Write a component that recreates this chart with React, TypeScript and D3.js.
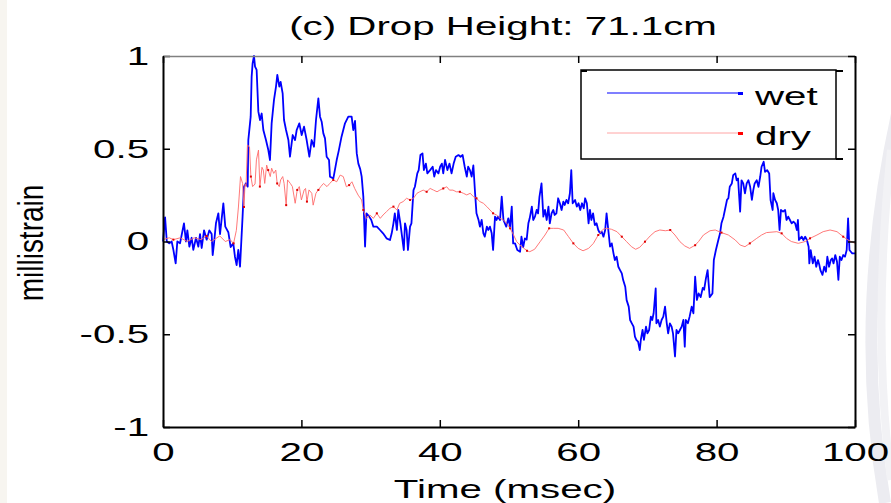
import React, { Component } from 'react'
import * as d3 from 'd3'

// values (time in msec, strain in millistrain)
const wetTime = [
  0, 0.3, 0.55, 0.9, 1.25, 1.5, 1.83, 2.07, 2.46, 2.84, 3.03, 3.32, 3.52, 3.81, 4.14, 4.38, 4.77, 5.11, 5.35, 5.59,
  5.93, 6.31, 6.7, 7.03, 7.18, 7.37, 7.66, 8.0, 8.24, 8.72, 9.0, 9.44, 9.78, 10.16, 10.4, 10.64, 10.88, 11.13, 11.5, 11.7,
  11.99, 12.24, 12.33, 12.67, 12.81, 12.95, 13.15, 13.3, 13.53, 13.78, 14.02, 14.26, 14.5, 14.88, 15.22, 15.46, 15.7, 16.04, 16.33, 16.52,
  16.81, 17.0, 17.29, 17.49, 17.78, 18.12, 18.35, 18.74, 19.08, 19.32, 19.7, 20.04, 20.38, 20.76, 21.15, 21.48, 21.82, 22.11, 22.45, 22.69,
  22.93, 23.17, 23.41, 23.65, 23.99, 24.13, 24.62, 25.1, 25.4, 25.8, 26.3, 26.78, 27.26, 27.5, 27.75, 28.0, 28.23, 28.5, 28.71, 28.95,
  29.2, 29.4, 29.8, 30.1, 30.4, 30.9, 31.36, 31.8, 32.3, 32.8, 33.05, 33.3, 33.5, 33.8, 34.0, 34.3, 34.8, 34.97, 35.2, 35.4,
  35.7, 35.9, 36.2, 36.4, 36.75, 36.95, 37.2, 37.5, 37.7, 37.99, 38.2, 38.6, 38.97, 39.2, 39.45, 39.8, 40.05, 40.3, 40.5, 40.76,
  41.1, 41.4, 41.7, 42.0, 42.3, 42.7, 43.0, 43.3, 43.6, 43.9, 44.1, 44.35, 44.6, 44.85, 45.1, 45.3, 45.6, 45.8, 46.05, 46.3,
  46.5, 46.8, 47.0, 47.25, 47.5, 47.7, 47.98, 48.2, 48.4, 48.7, 48.95, 49.2, 49.6, 49.9, 50.15, 50.4, 50.6, 50.87, 51.2, 51.6,
  51.8, 52.05, 52.3, 52.55, 52.8, 52.99, 53.3, 53.5, 53.75, 54.0, 54.2, 54.4, 54.7, 54.96, 55.2, 55.45, 55.7, 55.9, 56.15, 56.4,
  56.6, 56.85, 57.1, 57.35, 57.6, 57.85, 58.05, 58.3, 58.55, 58.8, 59.0, 59.2, 59.55, 59.8, 60.05, 60.3, 60.55, 60.8, 61.0, 61.25,
  61.5, 61.7, 61.9, 62.15, 62.4, 62.65, 62.9, 63.15, 63.4, 63.65, 63.9, 64.1, 64.35, 64.6, 64.85, 65.1, 65.3, 65.55, 65.8, 66.05,
  66.3, 66.5, 66.8, 67.0, 67.3, 67.5, 67.75, 68.0, 68.2, 68.4, 68.65, 68.9, 69.05, 69.3, 69.5, 69.8, 70.0, 70.25, 70.5, 70.7,
  70.9, 71.2, 71.3, 71.55, 71.8, 72.05, 72.3, 72.55, 72.8, 73.0, 73.25, 73.5, 73.7, 73.99, 74.2, 74.45, 74.7, 74.95, 75.2, 75.4,
  75.55, 75.85, 76.1, 76.4, 76.65, 76.9, 77.15, 77.4, 77.7, 78.0, 78.2, 78.45, 78.7, 79.0, 79.4, 79.6, 79.9, 80.25, 80.5, 80.7,
  81.0, 81.2, 81.5, 81.7, 81.9, 82.2, 82.4, 82.7, 82.9, 83.1, 83.4, 83.6, 83.85, 84.1, 84.35, 84.6, 84.85, 85.1, 85.3, 85.5,
  85.8, 86.05, 86.3, 86.5, 86.8, 87.0, 87.3, 87.6, 87.8, 88.1, 88.2, 88.45, 88.7, 88.9, 89.1, 89.3, 89.6, 89.9, 90.1, 90.35,
  90.6, 90.85, 91.1, 91.35, 91.6, 91.75, 91.9, 92.3, 92.55, 92.8, 93.05, 93.3, 93.4, 93.6, 93.9, 94.15, 94.4, 94.65, 94.85, 95.0,
  95.3, 95.55, 95.8, 96.0, 96.25, 96.5, 96.7, 96.9, 97.15, 97.4, 97.6, 97.8, 98.05, 98.3, 98.55, 98.8, 99.0, 99.2, 99.4, 99.6,
  100
]
const wetStrain = [
  0, 0.13, 0, -0.01, 0, -0.045, -0.118, 0, -0.01, 0.062, 0.098, 0, 0.06, -0.028, 0.02, -0.045, 0.02, -0.028, 0.04, -0.035,
  0.06, 0.01, 0.06, 0.04, -0.073, -0.01, 0.1, 0.152, 0.04, 0.206, 0.08, 0.05, -0.03, -0.01, -0.082, -0.127, -0.045, -0.136, 0.134, 0.296,
  0.314, 0.296, 0.547, 0.673, 0.889, 0.96, 1.0, 0.943, 0.925, 0.7, 0.655, 0.69, 0.601, 0.547, 0.493, 0.439, 0.637, 0.763, 0.835, 0.898,
  0.835, 0.86, 0.799, 0.655, 0.601, 0.547, 0.457, 0.574, 0.547, 0.601, 0.637, 0.574, 0.619, 0.547, 0.457, 0.547, 0.511, 0.655, 0.772, 0.673,
  0.646, 0.583, 0.556, 0.457, 0.439, 0.349, 0.34, 0.439, 0.49, 0.565, 0.637, 0.673, 0.673, 0.601, 0.65, 0.475, 0.42, 0.39, 0.35, 0.242,
  -0.027, 0.152, 0.134, 0.116, 0.08, 0.08, 0.062, 0.044, 0.017, 0.008, 0.044, 0.098, 0.152, 0.062, 0.17, 0.098, -0.046, 0.098, 0.062, -0.046,
  0.08, 0.098, 0.277, 0.295, 0.367, 0.385, 0.466, 0.475, 0.385, 0.42, 0.367, 0.385, 0.403, 0.35, 0.385, 0.367, 0.403, 0.42, 0.367, 0.44,
  0.385, 0.42, 0.367, 0.42, 0.457, 0.466, 0.457, 0.466, 0.403, 0.35, 0.403, 0.385, 0.35, 0.41, 0.26, 0.152, 0.116, 0.08, 0.116, 0.044,
  0.026, 0.08, 0.062, 0.08, 0.044, -0.046, 0.134, 0.116, 0.134, 0.116, 0.242, 0.116, 0.08, 0.125, 0.08, 0.188, -0.01, -0.01, -0.046, -0.055,
  0.026, -0.03, 0.017, 0.01, 0.098, 0.125, 0.188, 0.116, 0.134, 0.17, 0.152, 0.241, 0.313, 0.134, 0.17, 0.116, 0.188, 0.098, 0.152, 0.17,
  0.143, 0.152, 0.233, 0.206, 0.17, 0.215, 0.197, 0.224, 0.206, 0.26, 0.385, 0.206, 0.224, 0.188, 0.206, 0.17, 0.206, 0.179, 0.233, 0.206,
  0.098, 0.17, 0.116, 0.152, 0.089, 0.098, 0.062, 0.044, 0.053, 0.026, 0.062, 0.152, 0.062, -0.028, -0.01, -0.064, -0.1, -0.082, -0.136, -0.154,
  -0.172, -0.208, -0.244, -0.316, -0.351, -0.423, -0.441, -0.459, -0.513, -0.53, -0.54, -0.585, -0.53, -0.477, -0.53, -0.459, -0.495, -0.477, -0.405, -0.423,
  -0.387, -0.253, -0.441, -0.423, -0.459, -0.423, -0.405, -0.351, -0.441, -0.495, -0.441, -0.459, -0.495, -0.62, -0.477, -0.495, -0.477, -0.459, -0.423, -0.567,
  -0.423, -0.441, -0.405, -0.351, -0.387, -0.19, -0.315, -0.28, -0.3, -0.25, -0.26, -0.2, -0.154, -0.3, -0.28, -0.1, -0.046, 0.008, 0.044, 0.098,
  0.134, 0.17, 0.224, 0.233, 0.295, 0.313, 0.358, 0.367, 0.33, 0.34, 0.161, 0.33, 0.313, 0.26, 0.313, 0.33, 0.295, 0.224, 0.277, 0.313,
  0.33, 0.295, 0.349, 0.403, 0.43, 0.376, 0.385, 0.367, 0.224, 0.17, 0.26, 0.224, 0.206, 0.17, 0.062, 0.17, 0.161, 0.17, 0.116, 0.134,
  0.116, 0.098, 0.107, 0.098, 0.062, 0.116, 0.008, 0.026, 0.008, 0.026, 0.008, -0.028, -0.118, -0.046, -0.118, -0.082, -0.136, -0.1, -0.127, -0.154,
  -0.18, -0.136, -0.163, -0.082, -0.136, -0.1, -0.091, -0.118, -0.073, -0.109, -0.207, -0.082, -0.1, -0.073, -0.082, -0.046, 0.125, -0.046, -0.055, -0.064,
  -0.064
]

const dryTime = [
  0, 0.9, 1.5, 2.5, 3.5, 4.5, 5.5, 6.3, 7.0, 8.2, 9.0, 9.7, 10.2, 10.6, 10.9, 11.2, 11.5, 11.7, 11.85, 12.0,
  12.2, 12.5, 12.7, 12.95, 13.3, 13.5, 13.8, 14.0, 14.3, 14.5, 14.7, 14.98, 15.2, 15.5, 15.7, 16.0, 16.3, 16.5, 16.8, 17.0,
  17.3, 17.5, 17.8, 18.0, 18.4, 18.7, 19.1, 19.4, 19.7, 20.0, 20.4, 20.6, 20.8, 21.1, 21.5, 21.7, 22.1, 22.45, 22.8, 23.2,
  23.7, 24.1, 24.6, 25.1, 25.6, 26.05, 26.5, 26.9, 27.3, 27.7, 28.2, 28.7, 28.95, 29.2, 29.4, 29.9, 30.4, 30.9, 31.4, 31.8,
  32.3, 32.8, 33.3, 33.8, 34.2, 34.7, 35.2, 35.7, 36.2, 36.7, 37.1, 37.6, 38.1, 38.6, 39.1, 39.6, 40.0, 40.5, 41.0, 41.4,
  41.9, 42.4, 42.9, 43.4, 43.9, 44.4, 44.85, 45.3, 45.8, 46.3, 46.8, 47.25, 47.7, 48.2, 48.7, 49.2, 49.65, 50.15, 50.6, 51.1,
  51.6, 52.1, 52.6, 53.0, 53.7, 54.5, 55.2, 55.8, 56.4, 57.1, 57.9, 58.6, 59.3, 60.0, 60.7, 61.5, 62.2, 62.9, 63.6, 64.1,
  64.8, 65.6, 66.3, 67.0, 67.7, 68.3, 68.9, 69.65, 70.4, 71.1, 71.8, 72.6, 73.3, 73.98, 74.7, 75.4, 76.1, 76.9, 77.4, 78.1,
  79.05, 79.8, 80.7, 81.7, 82.7, 83.4, 84.1, 84.8, 85.8, 86.5, 87.2, 88.7, 89.4, 90.1, 90.8, 91.8, 92.8, 93.5, 94.5, 95.4,
  96.4, 97.4, 98.3, 99.0, 100
]
const dryStrain = [
  0.01, 0.02, 0.01, 0.02, 0, 0.02, 0.01, 0.03, 0, 0.03, 0, 0.01, -0.01, 0.06, 0.186, 0.35, 0.313, 0.186, 0.31, 0.296,
  0.52, 0.51, 0.35, 0.296, 0.31, 0.44, 0.493, 0.296, 0.4, 0.385, 0.313, 0.412, 0.385, 0.35, 0.395, 0.367, 0.385, 0.313, 0.296, 0.332,
  0.35, 0.313, 0.196, 0.332, 0.313, 0.296, 0.206, 0.278, 0.296, 0.224, 0.278, 0.286, 0.215, 0.278, 0.26, 0.196, 0.26, 0.278, 0.296, 0.313,
  0.296, 0.313, 0.332, 0.322, 0.358, 0.35, 0.295, 0.304, 0.322, 0.286, 0.25, 0.224, 0.17, 0.143, 0.125, 0.143, 0.125, 0.152, 0.125, 0.143,
  0.161, 0.179, 0.188, 0.17, 0.206, 0.215, 0.233, 0.224, 0.233, 0.26, 0.268, 0.277, 0.268, 0.286, 0.277, 0.268, 0.277, 0.286, 0.295, 0.277,
  0.277, 0.268, 0.268, 0.26, 0.251, 0.26, 0.242, 0.233, 0.215, 0.206, 0.188, 0.17, 0.152, 0.143, 0.125, 0.116, 0.098, 0.071, 0.04, 0,
  -0.02, -0.035, -0.05, -0.055, -0.042, -0.001, 0.035, 0.071, 0.071, 0.071, 0.062, 0.026, -0.01, -0.037, -0.05, -0.037, -0.01, 0.035, 0.066, 0.071,
  0.066, 0.053, 0.026, -0.001, -0.028, -0.042, -0.031, -0.001, 0.03, 0.053, 0.062, 0.058, 0.062, 0.035, -0.001, -0.024, -0.037, -0.02, 0, 0.035,
  0.058, 0.062, 0.048, 0.035, 0.008, -0.019, -0.028, -0.01, 0.017, 0.035, 0.048, 0.053, 0.044, 0.017, 0, -0.01, 0, 0.017, 0.035, 0.053,
  0.062, 0.053, 0.026, 0.008, -0.01
]

const xTicks = [0, 20, 40, 60, 80, 100]
const yTicks = [-1, -0.5, 0, 0.5, 1]
const seriesNames = ['wet', 'dry']
const seriesColors = ['#0000ff', '#ff6a6a']
const titleText = '(c) Drop Height: 71.1cm'
const xTitle = 'Time (msec)'
const yTitle = 'millistrain'

const FONT = '"Liberation Sans", Arial, Helvetica, sans-serif'
const STRETCH = 1.55

class Chart extends Component {
  node: SVGSVGElement | null = null

  componentDidMount() {
    this.createChart()
  }

  componentDidUpdate() {
    this.createChart()
  }

  createChart() {
    const svg = d3.select(this.node)
    svg.selectAll('*').remove()

    const left = 163, right = 855, top = 56, bottom = 427
    const x = d3.scaleLinear().domain([0, 100]).range([left, right])
    const y = d3.scaleLinear().domain([-1, 1]).range([bottom, top])

    // faint slide background leftovers
    svg.append('rect').attr('x', 0).attr('y', 0).attr('width', 7).attr('height', 503).attr('fill', '#f7f5f0')
    svg.append('path').attr('d', 'M 905 80 Q 850 300 885 503').attr('fill', 'none')
      .attr('stroke', '#ececf1').attr('stroke-width', 12)
    svg.append('path').attr('d', 'M 891 150 Q 872 330 891 480').attr('fill', 'none')
      .attr('stroke', '#f2f2f5').attr('stroke-width', 8)

    const text = (str: string, px: number, py: number, anchor: string, size: number) =>
      svg.append('text')
        .attr('transform', `translate(${px},${py}) scale(${STRETCH},1)`)
        .attr('text-anchor', anchor)
        .attr('font-family', FONT)
        .attr('font-size', size)
        .attr('fill', '#000')
        .text(str)

    // series
    const wetLine = d3.line<number>().x((d, i) => x(wetTime[i])).y(d => y(d))
    const dryLine = d3.line<number>().x((d, i) => x(dryTime[i])).y(d => y(d))

    svg.append('path')
      .datum(wetStrain)
      .attr('d', wetLine)
      .attr('fill', 'none')
      .attr('stroke', seriesColors[0])
      .attr('stroke-width', 1.8)
      .attr('stroke-linejoin', 'round')

    svg.append('path')
      .datum(dryStrain)
      .attr('d', dryLine)
      .attr('fill', 'none')
      .attr('stroke', seriesColors[1])
      .attr('stroke-width', 1)
      .attr('opacity', 0.9)

    svg.selectAll('.drymark')
      .data(dryStrain.filter((d, i) => i % 5 === 2))
      .enter().append('rect')
      .attr('class', 'drymark')
      .attr('x', (d, i) => x(dryTime[i * 5 + 2]) - 1)
      .attr('y', d => y(d) - 1)
      .attr('width', 2)
      .attr('height', 2)
      .attr('fill', '#e00000')

    // axes with inward ticks, box all round
    const bottomAxis = svg.append('g')
      .attr('transform', `translate(0,${bottom})`)
      .call(d3.axisBottom(x).tickValues(xTicks).tickSizeInner(-7).tickSizeOuter(0).tickPadding(16).tickFormat(d => String(d)))
    const leftAxis = svg.append('g')
      .attr('transform', `translate(${left},0)`)
      .call(d3.axisLeft(y).tickValues(yTicks).tickSizeInner(-7).tickSizeOuter(0).tickPadding(9).tickFormat(d => String(d)))
    const topAxis = svg.append('g')
      .attr('transform', `translate(0,${top})`)
      .call(d3.axisTop(x).tickValues(xTicks).tickSizeInner(-7).tickSizeOuter(0).tickFormat(() => ''))
    const rightAxis = svg.append('g')
      .attr('transform', `translate(${right},0)`)
      .call(d3.axisRight(y).tickValues(yTicks).tickSizeInner(-7).tickSizeOuter(0).tickFormat(() => ''))

    for (const ax of [bottomAxis, leftAxis, topAxis, rightAxis]) {
      ax.attr('font-family', FONT).attr('font-size', 26)
      ax.selectAll('line').attr('stroke', '#000').attr('stroke-width', 1.5)
      ax.select('.domain').attr('stroke', '#000').attr('stroke-width', 2)
      ax.selectAll('text').attr('fill', '#000').attr('transform', `scale(${STRETCH},1)`)
    }
    topAxis.select('.domain').attr('stroke', '#808080').attr('stroke-width', 1.5)

    // legend
    const lg = svg.append('g')
    lg.append('rect').attr('x', 581).attr('y', 70).attr('width', 255).attr('height', 89)
      .attr('fill', '#fff').attr('stroke', '#000').attr('stroke-width', 1.5)
    lg.append('path').attr('d', 'M836,71 H843 M836,159 H843 M581,71 H587')
      .attr('stroke', '#000').attr('stroke-width', 2)
    seriesNames.forEach((name, i) => {
      const ly = 93 + i * 40
      lg.append('line').attr('x1', 607).attr('x2', 743).attr('y1', ly).attr('y2', ly)
        .attr('stroke', seriesColors[i]).attr('stroke-width', i === 0 ? 1.2 : 1)
        .attr('opacity', i === 0 ? 1 : 0.6)
      lg.append('rect').attr('x', 738).attr('y', ly - 1).attr('width', 5).attr('height', 3)
        .attr('fill', i === 0 ? '#0000ff' : '#ff0000')
      text(name, 755, ly + 12, 'start', 26)
    })

    // titles
    text(titleText, 503, 35, 'middle', 26)
    text(xTitle, 505, 498, 'middle', 26)
    svg.append('text')
      .attr('transform', 'translate(43,243) scale(1.25,1) rotate(-90)')
      .attr('text-anchor', 'middle')
      .attr('font-family', FONT)
      .attr('font-size', 28)
      .attr('fill', '#000')
      .text(yTitle)
  }

  render() {
    return (
      <svg
        ref={node => { this.node = node }}
        width={891}
        height={503}
        style={{ position: 'absolute', left: 0, top: 0, background: '#fff' }}
      />
    )
  }
}

export default function App() {
  return <Chart />
}
